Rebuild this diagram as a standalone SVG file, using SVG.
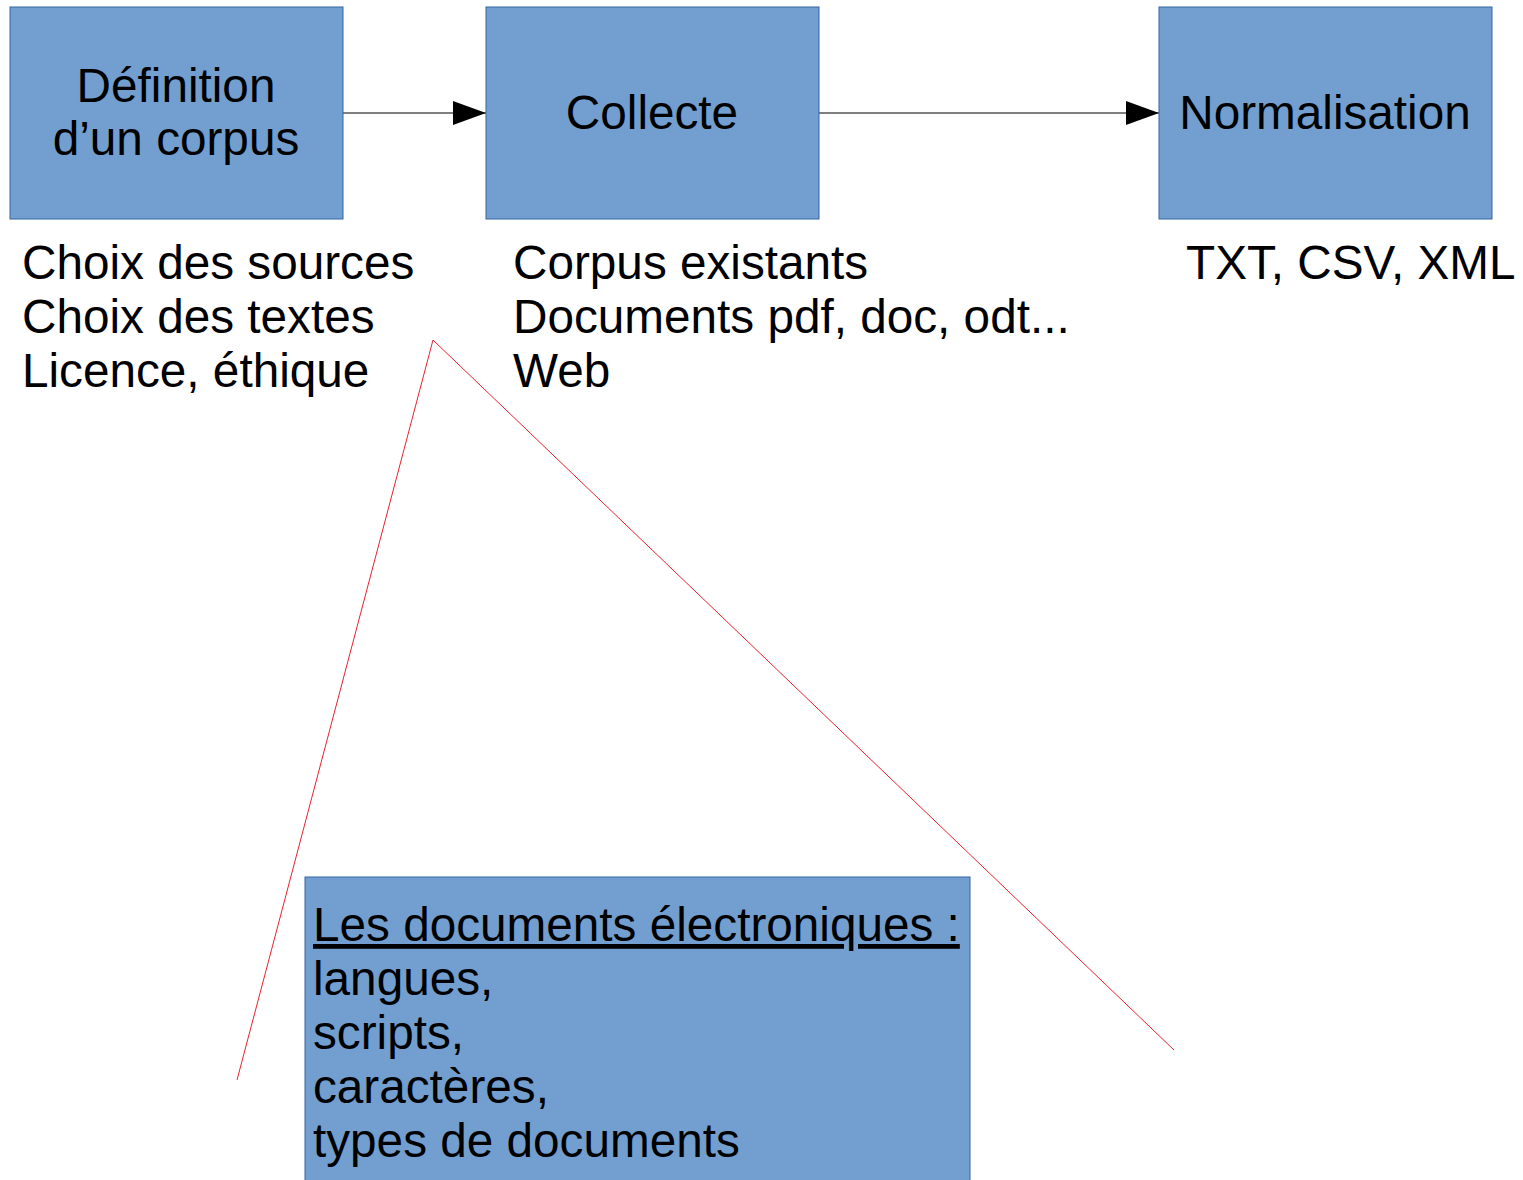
<svg xmlns="http://www.w3.org/2000/svg" width="1523" height="1180" viewBox="0 0 1523 1180">
  <style>
    .box { fill: #729fcf; stroke: #3465a4; stroke-width: 1; }
    .t { font-family: "Liberation Sans", Arial, sans-serif; font-size: 47.7px; fill: #000; }
    .c { text-anchor: middle; }
    .edge { stroke: #555; stroke-width: 1.3; fill: none; }
    .zoom { stroke: #e8232e; stroke-width: 1; fill: none; }
  </style>
  <defs>
    <marker id="arrow" markerUnits="userSpaceOnUse" markerWidth="34" markerHeight="24" refX="33" refY="12" orient="auto">
      <path d="M0,0 L33,12 L0,24 Z" fill="#000"/>
    </marker>
  </defs>
  <rect width="1523" height="1180" fill="#fff"/>

  <g id="edges">
    <line class="edge" x1="343" y1="113" x2="486" y2="113" marker-end="url(#arrow)"/>
    <line class="edge" x1="819" y1="113" x2="1159" y2="113" marker-end="url(#arrow)"/>
  </g>

  <g id="zoom-lines">
    <polyline class="zoom" points="237,1080 433,340 1174,1050"/>
  </g>

  <g id="definition">
    <rect class="box" x="10" y="7" width="333" height="212"/>
    <text class="t c" x="176" y="102">Définition</text>
    <text class="t c" x="176" y="155">d’un corpus</text>
  </g>

  <g id="collecte">
    <rect class="box" x="486" y="7" width="333" height="212"/>
    <text class="t c" x="652" y="129">Collecte</text>
  </g>

  <g id="normalisation">
    <rect class="box" x="1159" y="7" width="333" height="212"/>
    <text class="t c" x="1325" y="129">Normalisation</text>
  </g>

  <g id="definition-notes">
    <text class="t" x="22" y="279">Choix des sources</text>
    <text class="t" x="22" y="333">Choix des textes</text>
    <text class="t" x="22" y="387">Licence, éthique</text>
  </g>

  <g id="collecte-notes">
    <text class="t" x="513" y="279">Corpus existants</text>
    <text class="t" x="513" y="333">Documents pdf, doc, odt...</text>
    <text class="t" x="513" y="387">Web</text>
  </g>

  <g id="normalisation-notes">
    <text class="t" x="1186" y="279">TXT, CSV, XML</text>
  </g>

  <g id="documents">
    <rect class="box" x="305" y="877" width="665" height="310"/>
    <text class="t" x="313" y="941" text-decoration="underline">Les documents électroniques :</text>
    <text class="t" x="313" y="995">langues,</text>
    <text class="t" x="313" y="1049">scripts,</text>
    <text class="t" x="313" y="1103">caractères,</text>
    <text class="t" x="313" y="1157">types de documents</text>
  </g>
</svg>
